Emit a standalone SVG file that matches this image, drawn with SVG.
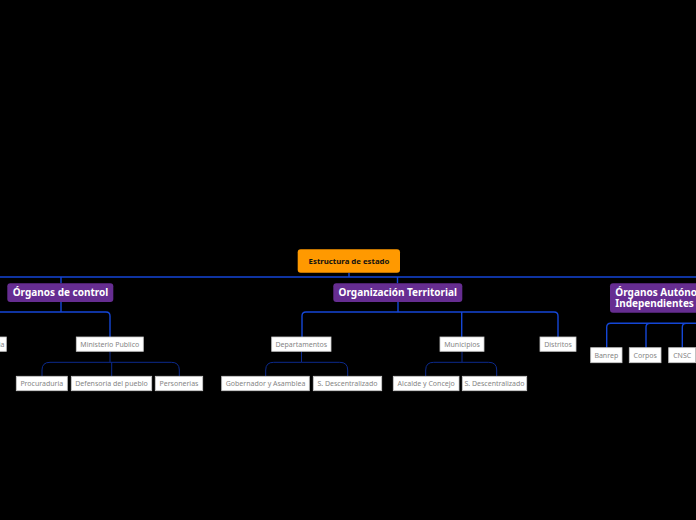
<svg xmlns="http://www.w3.org/2000/svg" width="696" height="520" viewBox="0 0 696 520">
<style>
.bg{fill:#000}
.c1{fill:none;stroke:#1446d6;stroke-width:1.4}
.c3{fill:none;stroke:#0c2a8e;stroke-width:1}
.root{fill:#ff9900}
.main{fill:#662d91}
.sub{fill:#fff;stroke:#c8c8c8;stroke-width:0.8}
.troot{font-family:"Noto Sans","DejaVu Sans",sans-serif;font-size:7.8px;font-weight:bold;fill:#111;text-anchor:middle}
.tmain{font-family:"Noto Sans","DejaVu Sans",sans-serif;font-size:10px;font-weight:bold;fill:#fff;text-anchor:middle}
.tsub{font-family:"Noto Sans","DejaVu Sans",sans-serif;font-size:7px;fill:#858585;text-anchor:middle}
</style>
<rect class="bg" x="0" y="0" width="696" height="520"/>
<g id="connectors">
<path class="c1" d="M0,277 H696 M349,272.7 V277 M61,277 V283.3 M397.5,277 V283.3"/>
<path class="c1" d="M61,302 V312 M0,312 H106 Q110,312 110,316 V337"/>
<path class="c1" d="M398,302 V312 M306,312 H554 Q558,312 558,316 V337 M306,312 Q302,312 302,316 V337 M461.7,312 V337"/>
<path class="c1" d="M610.7,323.3 H696 M610.7,323.3 Q606.7,323.3 606.7,327.3 V347.7 M650,323.3 Q646,323.3 646,327.3 V347.7 M686.3,323.3 Q682.3,323.3 682.3,327.3 V347.7"/>
<path class="c3" d="M110,351.3 V362.3 M110,362.3 H50 Q42,362.3 42,370 V376.3 M110,362.3 H171.3 Q179.3,362.3 179.3,370 V376.3 M111.7,362.3 V376.3"/>
<path class="c3" d="M301.5,351.3 V362.3 H273.7 Q265.7,362.3 265.7,370 V376.3 M301.5,362.3 H339.7 Q347.7,362.3 347.7,370 V376.3"/>
<path class="c3" d="M462,351.3 V362.3 H433.7 Q425.7,362.3 425.7,370 V376.3 M462,362.3 H488.7 Q496.7,362.3 496.7,370 V376.3"/>
</g>
<g id="root"><rect class="root" x="297.7" y="249.3" width="102.3" height="23.4" rx="3"/><text class="troot" x="349" y="263.8">Estructura de estado</text></g>
<g id="organos-control"><rect class="main" x="7.3" y="283.3" width="106" height="18.7" rx="3"/><text class="tmain" x="60.5" y="296.2">Órganos de control</text></g>
<g id="organizacion-territorial"><rect class="main" x="333.3" y="283.3" width="129" height="18.7" rx="3"/><text class="tmain" x="397.8" y="296.2">Organización Territorial</text></g>
<g id="organos-autonomos"><rect class="main" x="610" y="283.3" width="120" height="29.4" rx="3"/><text class="tmain" x="615.3" y="296.2" style="text-anchor:start">Órganos Autónomos e</text><text class="tmain" x="615.3" y="307.2" style="text-anchor:start">Independientes</text></g>
<g id="contraloria"><rect class="sub" x="-20" y="337" width="26.3" height="14.3"/><text class="tsub" x="4.5" y="346.6" style="text-anchor:end">Contraloria</text></g>
<g id="ministerio"><rect class="sub" x="76.3" y="337" width="67" height="14.3"/><text class="tsub" x="109.8" y="346.6">Ministerio Publico</text></g>
<g id="departamentos"><rect class="sub" x="271.7" y="337" width="59.3" height="14.3"/><text class="tsub" x="301.3" y="346.6">Departamentos</text></g>
<g id="municipios"><rect class="sub" x="440" y="337" width="44" height="14.3"/><text class="tsub" x="462" y="346.6">Municipios</text></g>
<g id="distritos"><rect class="sub" x="540" y="337" width="36" height="14.3"/><text class="tsub" x="558" y="346.6">Distritos</text></g>
<g id="banrep"><rect class="sub" x="590.7" y="347.7" width="31.3" height="15"/><text class="tsub" x="606.3" y="357.6">Banrep</text></g>
<g id="corpos"><rect class="sub" x="629.3" y="347.7" width="31.7" height="15"/><text class="tsub" x="645.2" y="357.6">Corpos</text></g>
<g id="cnsc"><rect class="sub" x="668.7" y="347.7" width="27" height="15"/><text class="tsub" x="682.2" y="357.6">CNSC</text></g>
<g id="procuraduria"><rect class="sub" x="16.3" y="376.3" width="51" height="14.4"/><text class="tsub" x="41.8" y="385.9">Procuraduria</text></g>
<g id="defensoria"><rect class="sub" x="71.3" y="376.3" width="80.4" height="14.4"/><text class="tsub" x="111.5" y="385.9">Defensoria del pueblo</text></g>
<g id="personerias"><rect class="sub" x="155.3" y="376.3" width="47.4" height="14.4"/><text class="tsub" x="179" y="385.9">Personerias</text></g>
<g id="gobernador"><rect class="sub" x="221.7" y="376.3" width="87.6" height="14.4"/><text class="tsub" x="265.5" y="385.9">Gobernador y Asamblea</text></g>
<g id="sdesc1"><rect class="sub" x="313.3" y="376.3" width="68.4" height="14.4"/><text class="tsub" x="347.5" y="385.9">S. Descentralizado</text></g>
<g id="alcalde"><rect class="sub" x="393.3" y="376.3" width="65.7" height="14.4"/><text class="tsub" x="426.2" y="385.9">Alcalde y Concejo</text></g>
<g id="sdesc2"><rect class="sub" x="462.3" y="376.3" width="64.4" height="14.4"/><text class="tsub" x="494.5" y="385.9">S. Descentralizado</text></g>
</svg>
